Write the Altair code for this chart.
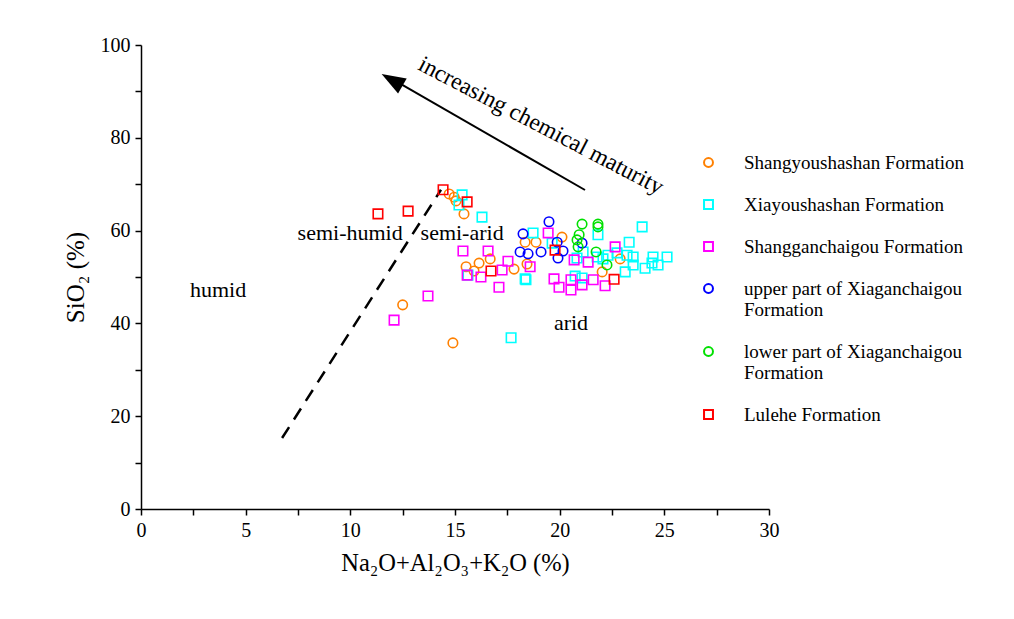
import altair as alt
import pandas as pd

# ---------------- data ----------------
series = [
    "Shangyoushashan Formation",
    "Xiayoushashan Formation",
    "Shangganchaigou Formation",
    "upper part of Xiaganchaigou Formation",
    "lower part of  Xiaganchaigou Formation",
    "Lulehe Formation",
]
colors = ["#FF8000", "#00FFFF", "#FF00FF", "#0000FF", "#00E000", "#FF0000"]
shapes = ["circle", "square", "square", "circle", "circle", "square"]

shangyou_x = [12.5, 14.9, 14.72, 14.96, 15.05, 15.43, 16.15, 16.68, 15.53, 15.91, 17.82,
              18.35, 18.87, 20.11, 18.44, 22.03, 22.89]
shangyou_y = [44.0, 35.8, 67.9, 67.2, 66.4, 63.6, 53.0, 53.9, 52.2, 51.3, 51.7,
              57.5, 57.5, 58.6, 52.8, 51.1, 53.9]

xiayou_x = [17.68, 15.34, 15.19, 16.29, 15.62, 18.35, 18.73, 19.64, 18.39, 23.94, 23.32,
            21.83, 21.12, 20.83, 20.74, 21.07, 21.79, 22.07, 22.31, 22.74, 23.22, 23.51,
            23.13, 23.51, 24.08, 24.46, 24.41, 24.70, 25.13]
xiayou_y = [36.9, 67.7, 65.5, 62.9, 50.4, 49.6, 59.5, 57.3, 49.4, 60.8, 57.5,
            59.1, 55.4, 54.1, 50.2, 49.8, 54.3, 53.9, 54.7, 55.2, 54.7, 54.3,
            51.1, 52.6, 51.9, 54.3, 53.0, 52.6, 54.3]

shanggan_x = [12.09, 13.71, 15.38, 16.58, 17.53, 17.25, 16.24, 15.58, 17.10, 18.59, 19.45,
              19.73, 19.97, 20.54, 20.54, 21.07, 21.60, 22.17, 22.65, 20.69, 21.36]
shanggan_y = [40.7, 45.9, 55.6, 55.6, 53.4, 51.5, 50.0, 50.4, 47.8, 52.2, 59.5,
              49.6, 47.8, 49.4, 47.2, 48.3, 49.4, 48.1, 56.5, 53.7, 53.2]

upper_x = [19.49, 18.25, 18.11, 18.49, 19.11, 19.88, 20.16, 19.92, 21.07]
upper_y = [61.9, 59.3, 55.4, 55.0, 55.4, 57.5, 55.6, 54.1, 57.3]

lower_x = [21.07, 21.83, 21.83, 20.93, 20.83, 20.88, 21.74, 22.26]
lower_y = [61.4, 61.4, 60.8, 59.1, 58.0, 56.5, 55.4, 52.6]

lulehe_x = [11.32, 12.76, 14.43, 15.58, 16.72, 19.78, 22.6]
lulehe_y = [63.6, 64.2, 68.8, 66.2, 51.3, 55.8, 49.5]

# annotation geometry (data units)
dash_x = [6.74, 14.33]
dash_y = [15.3, 68.8]
arrow_x = [21.21, 12.4]
arrow_y = [68.75, 91.6]
arrow_head_x = [11.99]
arrow_head_y = [92.46]

region_text = ["humid", "semi-humid", "semi-arid", "arid"]
region_x = [3.68, 9.99, 15.34, 20.54]
region_y = [47.2, 59.5, 59.5, 40.1]

maturity_text = ["increasing chemical maturity"]
maturity_x = [19.1]
maturity_y = [82.6]

x_ticks = [i * 2.5 for i in range(13)]
y_ticks = list(range(0, 101, 10))

# ---------------- build tables ----------------
xs = [shangyou_x, xiayou_x, shanggan_x, upper_x, lower_x, lulehe_x]
ys = [shangyou_y, xiayou_y, shanggan_y, upper_y, lower_y, lulehe_y]
rows = []
for name, sx, sy in zip(series, xs, ys):
    for a, b in zip(sx, sy):
        rows.append({"x": a, "y": b, "formation": name})
df = pd.DataFrame(rows)

FONT = "Liberation Serif"

x_scale = alt.Scale(domain=[0, 30], nice=False, zero=False)
y_scale = alt.Scale(domain=[0, 100], nice=False, zero=False)

x_axis = alt.Axis(
    title="Na\u2082O+Al\u2082O\u2083+K\u2082O (%)",
    values=x_ticks,
    labelExpr="datum.value % 5 == 0 ? datum.label : ''",
    titleFontSize=24.5,
    titlePadding=11,
)
y_axis = alt.Axis(
    title="SiO\u2082 (%)",
    values=y_ticks,
    labelExpr="datum.value % 20 == 0 ? datum.label : ''",
    titleFontSize=25,
    titlePadding=12,
)

legend = alt.Legend(
    title=None,
    orient="none",
    legendX=558,
    legendY=108,
    padding=0,
    labelFont=FONT,
    labelFontSize=19,
    labelColor="black",
    labelLimit=400,
    labelOffset=26,
    symbolSize=80,
    symbolStrokeWidth=2,
    rowPadding=22,
    labelExpr="length(datum.label) > 30 ? split(replace(datum.label, ' Formation', '|Formation'), '|') : datum.label",
)

points = alt.Chart(df).mark_point(filled=False, strokeWidth=1.6, size=90, opacity=1).encode(
    x=alt.X("x:Q", scale=x_scale, axis=x_axis),
    y=alt.Y("y:Q", scale=y_scale, axis=y_axis),
    color=alt.Color("formation:N", scale=alt.Scale(domain=series, range=colors), legend=legend),
    shape=alt.Shape("formation:N", scale=alt.Scale(domain=series, range=shapes), legend=legend),
)

dash_df = pd.DataFrame({"x": dash_x, "y": dash_y})
dash = alt.Chart(dash_df).mark_line(color="black", strokeWidth=2.5, strokeDash=[13, 9]).encode(
    x=alt.X("x:Q", scale=x_scale, axis=x_axis), y=alt.Y("y:Q", scale=y_scale, axis=y_axis)
)

arrow_df = pd.DataFrame({"x": arrow_x, "y": arrow_y})
arrow = alt.Chart(arrow_df).mark_line(color="black", strokeWidth=2).encode(
    x=alt.X("x:Q", scale=x_scale, axis=x_axis), y=alt.Y("y:Q", scale=y_scale, axis=y_axis)
)

head_df = pd.DataFrame({"x": arrow_head_x, "y": arrow_head_y})
head = alt.Chart(head_df).mark_point(
    shape="M0,-1L-0.72,1L0.72,1Z", filled=True, color="black", size=576, angle=300, opacity=1
).encode(x=alt.X("x:Q", scale=x_scale, axis=x_axis), y=alt.Y("y:Q", scale=y_scale, axis=y_axis))

region_df = pd.DataFrame({"x": region_x, "y": region_y, "t": region_text})
regions = alt.Chart(region_df).mark_text(font=FONT, fontSize=22, color="black").encode(
    x=alt.X("x:Q", scale=x_scale, axis=x_axis), y=alt.Y("y:Q", scale=y_scale, axis=y_axis), text="t:N"
)

mat_df = pd.DataFrame({"x": maturity_x, "y": maturity_y, "t": maturity_text})
maturity = alt.Chart(mat_df).mark_text(font=FONT, fontSize=23.5, color="black", angle=27.5).encode(
    x=alt.X("x:Q", scale=x_scale, axis=x_axis), y=alt.Y("y:Q", scale=y_scale, axis=y_axis), text="t:N"
)

chart = alt.layer(dash, arrow, head, regions, maturity, points).properties(
    width=628,
    height=464,
    autosize=alt.AutoSizeParams(type="none"),
    padding={"left": 141, "top": 45, "right": 245, "bottom": 110},
    background="white",
).configure_view(
    stroke=None
).configure_axis(
    grid=False,
    tickSize=6,
    tickWidth=1.5,
    tickColor="black",
    domainColor="black",
    domainWidth=1.5,
    labelFont=FONT,
    labelFontSize=20,
    labelColor="black",
    labelPadding=5,
    titleFont=FONT,
    titleFontWeight="normal",
    titleColor="black",
    labelFlush=False,
    labelOverlap=False,
)

chart.save("out.html", embed_options={"renderer": "svg", "actions": False})
